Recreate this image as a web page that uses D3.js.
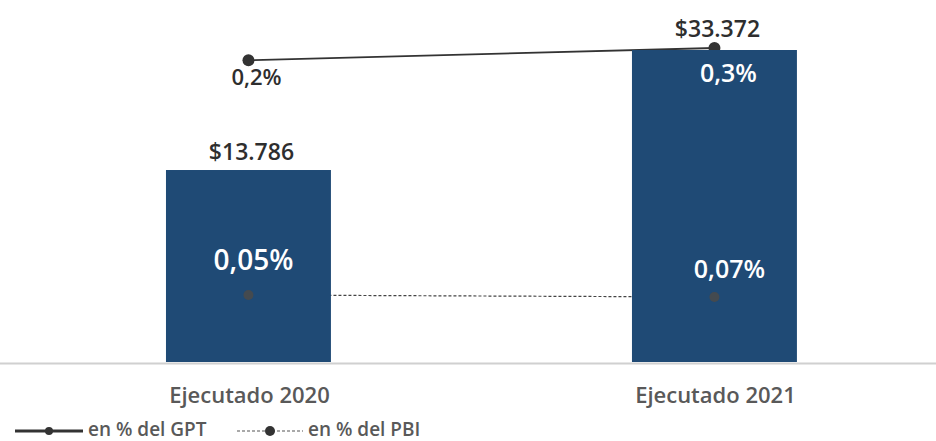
<!DOCTYPE html>
<html><head><meta charset="utf-8">
<script src="https://cdn.jsdelivr.net/npm/d3@7"></script>
<style>body{margin:0;background:#fff}svg{display:block}text{font-family:"Open Sans",sans-serif}</style>
</head><body>
<svg id="c" width="936" height="441"></svg>
<script>
const categories = ["Ejecutado 2020", "Ejecutado 2021"];
const montos = [13786, 33372];
const montoLabels = ["$13.786", "$33.372"];
const gpt = [0.2, 0.3];
const gptLabels = ["0,2%", "0,3%"];
const pbi = [0.05, 0.07];
const pbiLabels = ["0,05%", "0,07%"];
const legendLabels = ["en % del GPT", "en % del PBI"];

const svg = d3.select("#c");
const x = d3.scaleBand().domain(categories).range([10.8, 952.1]).paddingInner(0.646).paddingOuter(0.333);
const y = d3.scaleLinear().domain([-17710, 33372]).range([363, 50]);
const yG = d3.scaleLinear().domain([0, 0.3]).range([85, 48]);
const yP = d3.scaleLinear().domain([0.05, 0.07]).range([295, 297]);
const cx = d => x(d) + x.bandwidth() / 2;

// lines behind bars
const lineG = d3.line().x((d, i) => cx(categories[i])).y(d => yG(d));
const lineP = d3.line().x((d, i) => cx(categories[i])).y(d => yP(d));
svg.append("path").attr("d", lineP(pbi)).attr("fill", "none").attr("stroke", "#444").attr("stroke-width", 1.2).attr("stroke-dasharray", "3,2");
svg.append("path").attr("d", lineG(gpt)).attr("fill", "none").attr("stroke", "#333").attr("stroke-width", 1.8);
svg.selectAll(".mg").data(gpt).join("circle").attr("cx", (d, i) => cx(categories[i])).attr("cy", d => yG(d)).attr("r", 6).attr("fill", "#333");

// axis baseline
svg.append("line").attr("x1", 0).attr("x2", 936).attr("y1", 363.5).attr("y2", 363.5).attr("stroke", "#d0d0d0").attr("stroke-width", 2);

// bars
svg.selectAll(".bar").data(montos).join("rect")
  .attr("x", (d, i) => x(categories[i])).attr("width", x.bandwidth())
  .attr("y", d => y(d)).attr("height", d => y(-17710) - y(d) - 1)
  .attr("fill", "#1f4a75");

// faint PBI markers over bars
svg.selectAll(".mp").data(pbi).join("circle").attr("cx", (d, i) => cx(categories[i])).attr("cy", d => yP(d)).attr("r", 5).attr("fill", "#6a4a2a").attr("opacity", 0.5);

// value labels
svg.selectAll(".ml").data(montos).join("text")
  .attr("x", (d, i) => cx(categories[i]) + 3).attr("y", (d, i) => y(d) - (i === 0 ? 10 : 13))
  .attr("text-anchor", "middle").attr("font-size", 23).attr("font-weight", 600).attr("fill", "#2e2e2e")
  .text((d, i) => montoLabels[i]);

svg.selectAll(".gl").data(gpt).join("text")
  .attr("x", (d, i) => cx(categories[i]) + (i === 0 ? 8 : 14)).attr("y", (d, i) => yG(d) + (i === 0 ? 25 : 34))
  .attr("text-anchor", "middle").attr("font-size", (d, i) => i === 0 ? 22 : 25).attr("font-weight", 600)
  .attr("fill", (d, i) => i === 0 ? "#2e2e2e" : "#fff")
  .text((d, i) => gptLabels[i]);

svg.selectAll(".pl").data(pbi).join("text")
  .attr("x", (d, i) => cx(categories[i]) + (i === 0 ? 5 : 15)).attr("y", (d, i) => yP(d) - (i === 0 ? 25 : 19))
  .attr("text-anchor", "middle").attr("font-size", (d, i) => i === 0 ? 28 : 25).attr("font-weight", 600).attr("fill", "#fff")
  .text((d, i) => pbiLabels[i]);

// category labels
svg.selectAll(".cl").data(categories).join("text")
  .attr("x", d => cx(d) + 1).attr("y", 403)
  .attr("text-anchor", "middle").attr("font-size", 22).attr("font-weight", 600).attr("fill", "#595959")
  .text(d => d);

// legend
const lg = svg.append("g");
lg.append("line").attr("x1", 15).attr("x2", 83).attr("y1", 431).attr("y2", 431).attr("stroke", "#333").attr("stroke-width", 3);
lg.append("circle").attr("cx", 49).attr("cy", 431).attr("r", 4).attr("fill", "#333");
lg.append("text").attr("x", 88).attr("y", 436).attr("font-size", 19).attr("font-weight", 600).attr("fill", "#595959").text(legendLabels[0]);
lg.append("line").attr("x1", 237).attr("x2", 303).attr("y1", 431).attr("y2", 431).attr("stroke", "#555").attr("stroke-width", 1.2).attr("stroke-dasharray", "3,2");
lg.append("circle").attr("cx", 270).attr("cy", 431).attr("r", 5).attr("fill", "#333");
lg.append("text").attr("x", 308).attr("y", 436).attr("font-size", 19).attr("font-weight", 600).attr("fill", "#595959").text(legendLabels[1]);
</script>
</body></html>
